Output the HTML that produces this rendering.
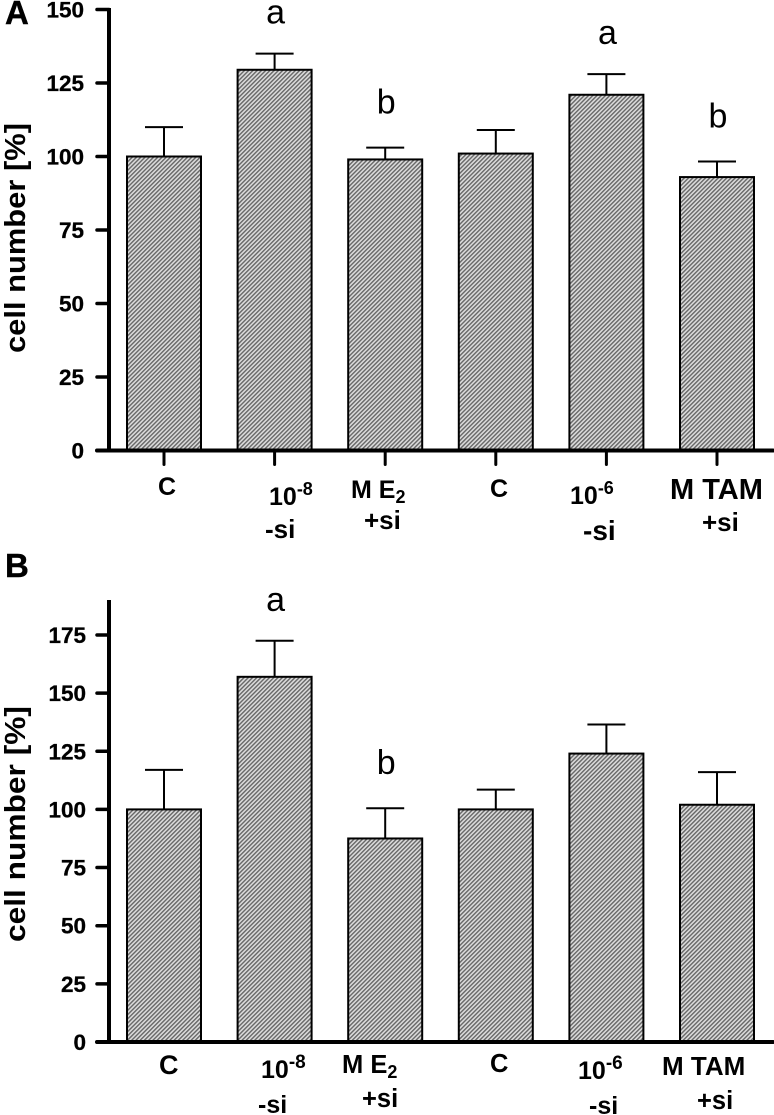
<!DOCTYPE html>
<html>
<head>
<meta charset="utf-8">
<title>Cell number charts</title>
<style>
html,body{margin:0;padding:0;background:#fff;width:774px;height:1115px;overflow:hidden}
svg{display:block}
text{font-family:"Liberation Sans",sans-serif;fill:#000}
.tick{font-weight:bold;font-size:22.5px;text-anchor:end;stroke:#000;stroke-width:.3px}
.cat{font-weight:bold;font-size:25px}
.title{font-weight:bold;font-size:28.5px}
.sig{font-size:34px;text-anchor:middle}
.panel{font-weight:bold;font-size:33px;stroke:#000;stroke-width:.4px}
</style>
</head>
<body>
<svg id="figure" xmlns="http://www.w3.org/2000/svg" width="774" height="1115" viewBox="0 0 774 1115">
<defs>
<pattern id="hatch" width="3" height="3" patternUnits="userSpaceOnUse" patternTransform="rotate(-45)">
<rect width="3" height="3" fill="#dcdcdc"/>
<rect width="3" height="1.4" fill="#666"/>
</pattern>
</defs>

<text class="panel" x="5" y="24">A</text>
<text class="panel" x="5" y="577">B</text>

<text class="title" transform="translate(25,353) rotate(-90)" textLength="230" lengthAdjust="spacingAndGlyphs">cell number [%]</text>
<text class="title" transform="translate(25,942) rotate(-90)" textLength="236" lengthAdjust="spacingAndGlyphs">cell number [%]</text>

<g>
<text class="cat" x="158" y="495">C</text>
<text class="cat" x="269" y="505">10<tspan dy="-10" font-size="18">-8</tspan></text>
<text class="cat" x="265" y="538" style="font-size:26px">-si</text>
<text class="cat" x="351" y="498">M E<tspan dy="5" font-size="18">2</tspan></text>
<text class="cat" x="364" y="529" style="font-size:26px">+si</text>
<text class="cat" x="490" y="497">C</text>
<text class="cat" x="570" y="504">10<tspan dy="-10" font-size="18">-6</tspan></text>
<text class="cat" x="583" y="540" style="font-size:28px">-si</text>
<text class="cat" x="670" y="499" style="font-size:29px">M TAM</text>
<text class="cat" x="702" y="531" style="font-size:26px">+si</text>
</g>
<g>
<text class="cat" x="159" y="1074" style="font-size:27px">C</text>
<text class="cat" x="261" y="1078">10<tspan dy="-10" font-size="19">-8</tspan></text>
<text class="cat" x="258" y="1113">-si</text>
<text class="cat" x="342" y="1073" style="font-size:25.5px">M E<tspan dy="5" font-size="18">2</tspan></text>
<text class="cat" x="362" y="1107" style="font-size:25.5px">+si</text>
<text class="cat" x="490" y="1072" style="font-size:25.5px">C</text>
<text class="cat" x="578" y="1079">10<tspan dy="-10" font-size="19">-6</tspan></text>
<text class="cat" x="589" y="1114">-si</text>
<text class="cat" x="662" y="1075" style="font-size:26px">M TAM</text>
<text class="cat" x="697" y="1109" style="font-size:25.5px">+si</text>
</g>
</svg>
<script>
var panelAValues = [100, 129.5, 99, 101, 121, 93];
var panelAErrors = [110, 135, 103, 109, 128, 98.3];
var panelATicks = [0, 25, 50, 75, 100, 125, 150];
var panelALetters = ['', 'a', 'b', '', 'a', 'b'];
var panelBValues = [100, 157, 87.5, 100, 124, 102];
var panelBErrors = [117, 172.5, 100.5, 108.5, 136.5, 116];
var panelBTicks = [0, 25, 50, 75, 100, 125, 150, 175];
var panelBLetters = ['', 'a', 'b', '', '', ''];
var categories = ['C', '10-8 -si', 'M E2 +si', 'C', '10-6 -si', 'M TAM +si'];

var NS = 'http://www.w3.org/2000/svg';
var svg = document.getElementById('figure');

function make(tag, attrs, parent) {
  var el = document.createElementNS(NS, tag);
  for (var k in attrs) { el.setAttribute(k, attrs[k]); }
  parent.appendChild(el);
  return el;
}
function xCenter(i) { return 164 + i * 110.6; }

function drawPanel(prefix, values, errors, ticks, letters, y0, scale, axisTop, hasXTicks, labelRight) {
  function yScale(v) { return y0 - v * scale; }
  var g = make('g', {}, svg);
  
  

  values.forEach(function (v, i) {
    var cx = xCenter(i);
    var top = yScale(v);
    var errTop = yScale(errors[i]);
    var stem = make('line', {x1: cx, x2: cx, y1: top, y2: errTop, stroke: '#000', 'stroke-width': 2}, g);
    
    
    var cap = make('line', {x1: cx - 19, x2: cx + 19, y1: errTop, y2: errTop, stroke: '#000', 'stroke-width': 2}, g);
    
    
    var bar = make('rect', {x: cx - 37, y: top, width: 74, height: y0 - top, fill: 'url(#hatch)', stroke: '#000', 'stroke-width': 2}, g);
    
    
    if (letters[i]) {
      var t = make('text', {x: cx + 1, y: errTop - (letters[i] === 'a' ? 30 : 34), 'class': 'sig'}, g);
      t.textContent = letters[i];
      
      
    }
    if (hasXTicks) {
      var xt = make('line', {x1: cx, x2: cx, y1: y0, y2: y0 + 14, stroke: '#000', 'stroke-width': 3, 'stroke-linecap': 'round'}, g);
      
      
    }
  });

  ticks.forEach(function (v) {
    var y = yScale(v);
    var tl = make('line', {x1: 97, x2: 109, y1: y, y2: y, stroke: '#000', 'stroke-width': 3.5, 'stroke-linecap': 'round'}, g);
    
    
    var label = make('text', {x: labelRight, y: y + 8, 'class': 'tick'}, g);
    label.textContent = String(v);
    
    
  });

  var yAxis = make('line', {x1: 109, x2: 109, y1: axisTop, y2: y0, stroke: '#000', 'stroke-width': 4}, g);
  
  
  var xAxis = make('line', {x1: 97, x2: 773, y1: y0, y2: y0, stroke: '#000', 'stroke-width': 4, 'stroke-linecap': 'round'}, g);
  
  
}

drawPanel('panel-a', panelAValues, panelAErrors, panelATicks, panelALetters, 450.5, 2.94, 8, true, 84);
drawPanel('panel-b', panelBValues, panelBErrors, panelBTicks, panelBLetters, 1042, 2.326, 600, false, 86);
</script>
</body>
</html>
